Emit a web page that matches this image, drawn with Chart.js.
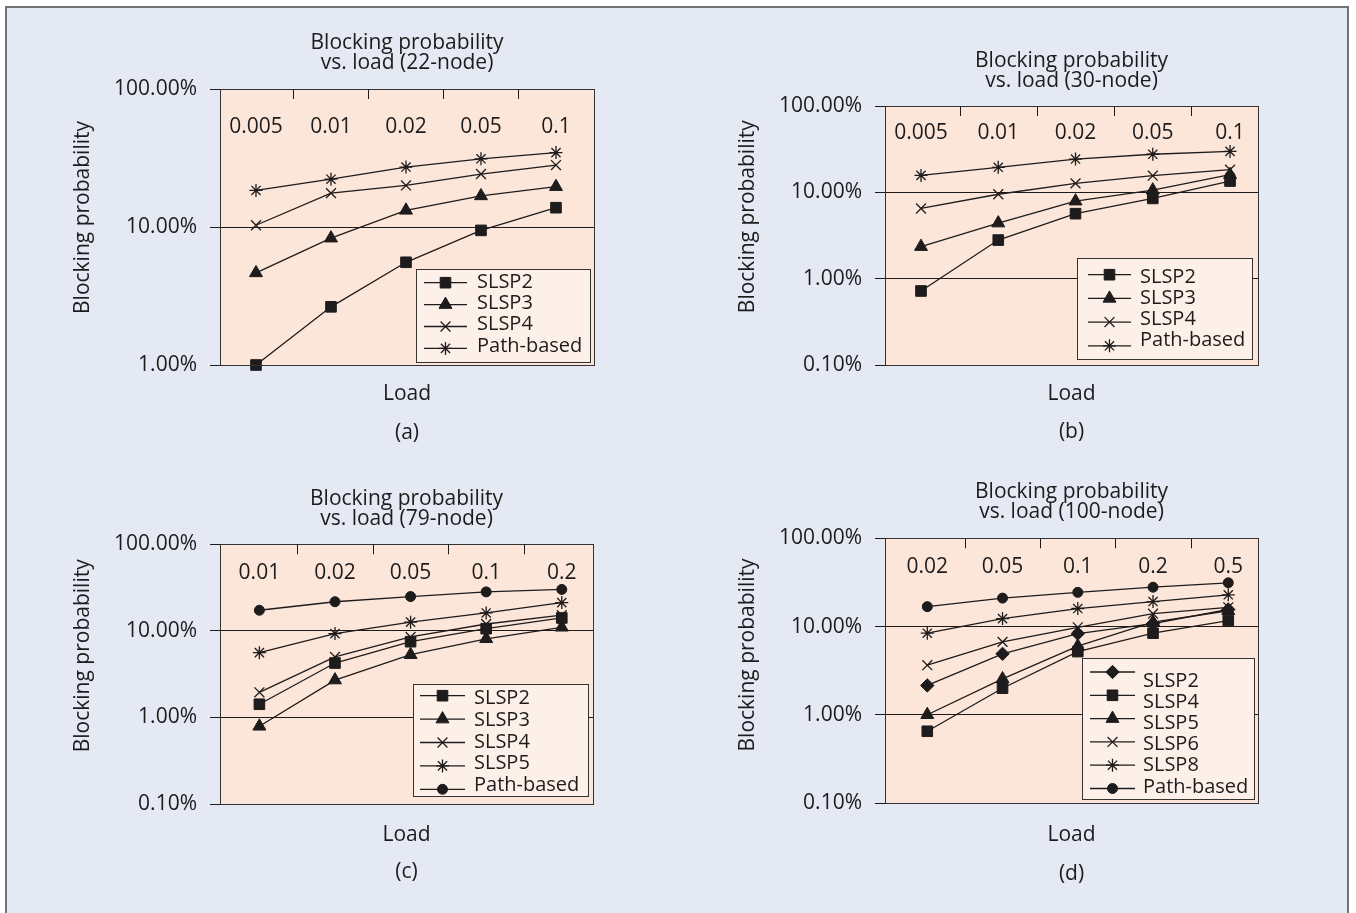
<!DOCTYPE html>
<html>
<head>
<meta charset="utf-8">
<title>Blocking probability vs. load</title>
<script src="https://cdn.jsdelivr.net/npm/chart.js@4.4.1/dist/chart.umd.min.js"></script>
<style>
  html, body { margin: 0; padding: 0; background: #fff; }
  #page { position: relative; width: 1356px; height: 913px; overflow: hidden; }
  #frame { position: absolute; left: 5px; top: 6px; width: 1340px; height: 940px; border: 2px solid #707377; background: #e4e9f4; }
  canvas { position: absolute; }
</style>
</head>
<body>
<div id="page">
  <div id="frame"></div>
  <canvas id="chartA"></canvas>
  <canvas id="chartB"></canvas>
  <canvas id="chartC"></canvas>
  <canvas id="chartD"></canvas>
</div>
<script>
// ---- data (blocking probability, in %) ----
const A_LOADS = ['0.005', '0.01', '0.02', '0.05', '0.1'];
const A_SLSP2 = [1.0, 2.64, 5.55, 9.45, 13.8];
const A_SLSP3 = [4.65, 8.3, 13.2, 16.8, 19.6];
const A_SLSP4 = [10.3, 17.6, 20.0, 24.2, 28.1];
const A_PATH  = [18.4, 22.2, 27.2, 31.2, 34.6];

const B_LOADS = ['0.005', '0.01', '0.02', '0.05', '0.1'];
const B_SLSP2 = [0.72, 2.8, 5.66, 8.5, 13.5];
const B_SLSP3 = [2.35, 4.4, 7.9, 10.6, 16.0];
const B_SLSP4 = [6.5, 9.5, 12.7, 15.6, 18.3];
const B_PATH  = [15.7, 19.5, 24.3, 27.6, 29.8];

const C_LOADS = ['0.01', '0.02', '0.05', '0.1', '0.2'];
const C_SLSP2 = [1.42, 4.25, 7.5, 10.6, 14.1];
const C_SLSP3 = [0.79, 2.7, 5.3, 8.1, 11.0];
const C_SLSP4 = [1.95, 5.0, 8.5, 12.0, 15.2];
const C_SLSP5 = [5.6, 9.3, 12.6, 16.1, 21.2];
const C_PATH  = [17.3, 21.7, 24.9, 28.2, 30.1];

const D_LOADS = ['0.02', '0.05', '0.1', '0.2', '0.5'];
const D_SLSP2 = [2.15, 4.9, 8.3, 10.8, 15.6];
const D_SLSP4 = [0.65, 2.0, 5.2, 8.4, 11.7];
const D_SLSP5 = [1.0, 2.55, 6.0, 11.2, 15.1];
const D_SLSP6 = [3.65, 6.7, 9.8, 14.0, 16.5];
const D_SLSP8 = [8.4, 12.3, 16.0, 19.2, 22.9];
const D_PATH  = [16.8, 21.0, 24.4, 27.9, 31.3];

const Y_TICKS_2DEC = [1, 10, 100];
const Y_TICKS_3DEC = [0.1, 1, 10, 100];

// ---- styles ----
const INK = '#1e1b1c';
const EDGE = '#333333';
const PLOT_BG = '#fce6d9';
const LEGEND_BG = '#fdf0e9';
const FONT = "'Open Sans', 'Noto Sans', sans-serif";

Chart.defaults.font.family = FONT;
Chart.defaults.font.size = 21;
Chart.defaults.color = INK;

const MARKS = {
  square:   { pointStyle: 'rect', pointRadius: 7.5, pointBorderWidth: 1 },
  triangle: { pointStyle: 'triangle', pointRadius: 7.5, pointBorderWidth: 1 },
  cross:    { pointStyle: 'crossRot', pointRadius: 7, pointBorderWidth: 1.3 },
  star:     { pointStyle: 'star', pointRadius: 6.5, pointBorderWidth: 1.3 },
  circle:   { pointStyle: 'circle', pointRadius: 5, pointBorderWidth: 1 },
  diamond:  { pointStyle: 'rectRot', pointRadius: 6.7, pointBorderWidth: 1 }
};

function series(label, values, mark) {
  return Object.assign({
    label: label,
    data: values.map((v, i) => ({ x: i, y: v })),
    borderColor: INK,
    backgroundColor: INK,
    borderWidth: 1.3,
    pointBackgroundColor: INK,
    pointBorderColor: INK,
    tension: 0,
    clip: false
  }, MARKS[mark]);
}

// draws plot background/frame, in-plot load labels, rotated y title and the boxed legend
const panelDecor = {
  id: 'panelDecor',
  beforeDraw(chart, args, o) {
    const { ctx, chartArea: a } = chart;
    ctx.save();
    ctx.fillStyle = PLOT_BG;
    ctx.fillRect(a.left, a.top, a.width, a.height);
    ctx.restore();
  },
  afterDraw(chart, args, o) {
    const { ctx, chartArea: a } = chart;
    const xs = chart.scales.x;
    const [ox, oy] = o.origin;
    ctx.save();

    ctx.strokeStyle = EDGE;
    ctx.lineWidth = 1;
    ctx.strokeRect(Math.round(a.left) + 0.5, Math.round(a.top) + 0.5, Math.round(a.width), Math.round(a.height));

    // tick marks between categories, hanging from the top edge
    ctx.strokeStyle = INK;
    ctx.beginPath();
    for (let i = 0; i < o.loads.length - 1; i++) {
      const px = Math.round(xs.getPixelForValue(i + 0.5)) + 0.5;
      ctx.moveTo(px, a.top);
      ctx.lineTo(px, a.top + 10);
    }
    ctx.stroke();

    ctx.fillStyle = INK;
    ctx.font = '21px ' + FONT;
    ctx.textAlign = 'center';
    ctx.textBaseline = 'middle';
    o.loads.forEach((lab, i) => {
      ctx.fillText(lab, xs.getPixelForValue(i), a.top + o.catY);
    });

    // y axis title
    ctx.save();
    ctx.translate(o.yTitle[0] - ox, o.yTitle[1] - oy);
    ctx.rotate(-Math.PI / 2);
    ctx.fillText('Blocking probability', 0, 0);
    ctx.restore();

    // legend
    const lg = o.legend;
    const bx = lg.box[0] - ox, by = lg.box[1] - oy, bw = lg.box[2], bh = lg.box[3];
    ctx.fillStyle = LEGEND_BG;
    ctx.fillRect(bx, by, bw, bh);
    ctx.strokeStyle = EDGE;
    ctx.lineWidth = 1;
    ctx.strokeRect(Math.round(bx) + 0.5, Math.round(by) + 0.5, bw, bh);
    ctx.font = '20px ' + FONT;
    ctx.textAlign = 'left';
    chart.data.datasets.forEach((ds, i) => {
      const my = by + lg.mark[0] + i * lg.mark[1];
      const ty = by + lg.text[0] + i * lg.text[1];
      ctx.strokeStyle = INK;
      ctx.lineWidth = ds.borderWidth;
      ctx.beginPath();
      ctx.moveTo(bx + lg.lineX[0], my);
      ctx.lineTo(bx + lg.lineX[1], my);
      ctx.stroke();
      ctx.fillStyle = INK;
      ctx.lineWidth = ds.pointBorderWidth;
      if (Chart.helpers && Chart.helpers.drawPoint) {
        Chart.helpers.drawPoint(ctx, {
          pointStyle: ds.pointStyle, radius: ds.pointRadius, rotation: 0, borderWidth: ds.pointBorderWidth
        }, bx + (lg.lineX[0] + lg.lineX[1]) / 2, my);
      }
      ctx.fillText(ds.label, bx + lg.textX, ty);
    });
    ctx.restore();
  }
};

// ---- panel layout (page coordinates) ----
const PANELS = [
  {
    id: 'chartA', canvas: [10, 0, 655, 455], area: [220, 594, 89, 365],
    title: ['Blocking probability', 'vs. load (22-node)'], titleY: 43.3, loadY: 394, tag: '(a)', tagY: 433.3,
    yTitle: [83.5, 217.5], loads: A_LOADS, catY: 38.3, xRange: [-0.48, 4.507], yRange: [1, 100], yTicks: Y_TICKS_2DEC,
    legend: { box: [416, 269, 174, 93], mark: [13.7, 21.9], text: [13.3, 21.2], lineX: [8, 51], textX: 61 },
    series: [series('SLSP2', A_SLSP2, 'square'), series('SLSP3', A_SLSP3, 'triangle'),
             series('SLSP4', A_SLSP4, 'cross'), series('Path-based', A_PATH, 'star')]
  },
  {
    id: 'chartB', canvas: [676, 0, 660, 455], area: [885, 1258, 106, 365],
    title: ['Blocking probability', 'vs. load (30-node)'], titleY: 60.8, loadY: 394, tag: '(b)', tagY: 432.5,
    yTitle: [748, 216.7], loads: B_LOADS, catY: 27.3, xRange: [-0.466, 4.362], yRange: [0.1, 100], yTicks: Y_TICKS_3DEC,
    legend: { box: [1077, 258, 175, 101], mark: [16.7, 23.7], text: [19, 21], lineX: [11, 54], textX: 63 },
    series: [series('SLSP2', B_SLSP2, 'square'), series('SLSP3', B_SLSP3, 'triangle'),
             series('SLSP4', B_SLSP4, 'cross'), series('Path-based', B_PATH, 'star')]
  },
  {
    id: 'chartC', canvas: [10, 455, 655, 450], area: [220, 593, 544.3, 804],
    title: ['Blocking probability', 'vs. load (79-node)'], titleY: 498.7, loadY: 835, tag: '(c)', tagY: 872.5,
    yTitle: [83, 655.8], loads: C_LOADS, catY: 29, xRange: [-0.521, 4.413], yRange: [0.1, 100], yTicks: Y_TICKS_3DEC,
    legend: { box: [413, 684, 175, 112], mark: [11.7, 23.4], text: [14, 21.9], lineX: [7, 52], textX: 61 },
    series: [series('SLSP2', C_SLSP2, 'square'), series('SLSP3', C_SLSP3, 'triangle'),
             series('SLSP4', C_SLSP4, 'cross'), series('SLSP5', C_SLSP5, 'star'),
             series('Path-based', C_PATH, 'circle')]
  },
  {
    id: 'chartD', canvas: [676, 455, 660, 450], area: [885, 1258, 538.3, 803],
    title: ['Blocking probability', 'vs. load (100-node)'], titleY: 492.5, loadY: 835, tag: '(d)', tagY: 874,
    yTitle: [747.7, 655], loads: D_LOADS, catY: 28.4, xRange: [-0.562, 4.395], yRange: [0.1, 100], yTicks: Y_TICKS_3DEC,
    legend: { box: [1082, 658, 172, 141], mark: [14, 23.3], text: [23.3, 21.1], lineX: [8, 53], textX: 61 },
    series: [series('SLSP2', D_SLSP2, 'diamond'), series('SLSP4', D_SLSP4, 'square'),
             series('SLSP5', D_SLSP5, 'triangle'), series('SLSP6', D_SLSP6, 'cross'),
             series('SLSP8', D_SLSP8, 'star'), series('Path-based', D_PATH, 'circle')]
  }
];

function buildPanel(p) {
  const [cx, cy, cw, ch] = p.canvas;
  const [L, R, T, B] = p.area;
  const el = document.getElementById(p.id);
  el.width = cw; el.height = ch;
  el.style.left = cx + 'px'; el.style.top = cy + 'px';
  const yW = 130;
  const xH = p.loadY + 12 - B;

  return new Chart(el, {
    type: 'line',
    data: { datasets: p.series },
    options: {
      responsive: false,
      animation: false,
      events: [],
      layout: { padding: { left: L - cx - yW, right: cx + cw - R, top: 0, bottom: 0 } },
      plugins: {
        legend: { display: false },
        tooltip: { enabled: false },
        title: {
          display: true, text: p.title, fullSize: false, color: INK,
          font: { size: 21, weight: 'normal', lineHeight: '20px' },
          padding: { top: p.titleY - 10 - cy, bottom: T - p.titleY - 30 }
        },
        subtitle: {
          display: true, position: 'bottom', text: p.tag, fullSize: false, color: INK,
          font: { size: 21, weight: 'normal', lineHeight: '24px' },
          padding: { top: p.tagY - 12 - (p.loadY + 12), bottom: cy + ch - (p.tagY + 12) }
        },
        panelDecor: { origin: [cx, cy], loads: p.loads, catY: p.catY, yTitle: p.yTitle, legend: p.legend }
      },
      scales: {
        x: {
          type: 'linear', min: p.xRange[0], max: p.xRange[1], bounds: 'data',
          grid: { display: false }, border: { display: false }, ticks: { display: false },
          title: { display: true, text: 'Load', color: INK, font: { size: 21, lineHeight: '24px' }, padding: 0 },
          afterFit: s => { s.height = xH; }
        },
        y: {
          type: 'logarithmic', min: p.yRange[0], max: p.yRange[1],
          afterBuildTicks: s => { s.ticks = p.yTicks.map(v => ({ value: v })); },
          afterFit: s => { s.width = yW; },
          grid: { color: INK, lineWidth: 1, drawTicks: true, tickLength: 10 },
          border: { display: true, color: EDGE, width: 1 },
          ticks: { color: INK, font: { size: 21 }, padding: 13, callback: v => Number(v).toFixed(2) + '%' }
        }
      }
    },
    plugins: [panelDecor]
  });
}

PANELS.forEach(buildPanel);
</script>
</body>
</html>
